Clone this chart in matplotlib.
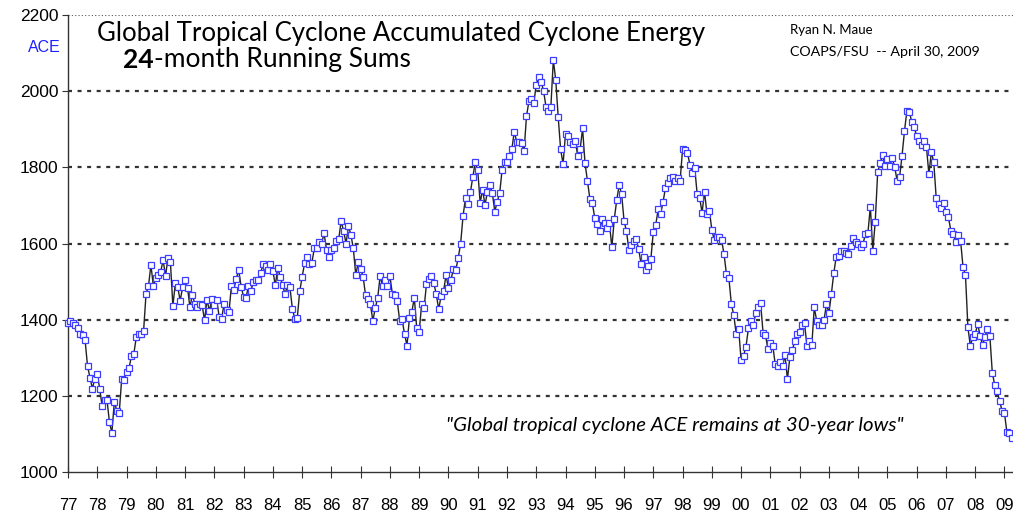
import numpy as np
import matplotlib.pyplot as plt

# Global tropical cyclone ACE, 24-month running sums, monthly Jan 1977 - Apr 2009
ace_1977_1984 = [
    1390, 1396, 1390, 1385, 1377, 1362, 1360, 1347, 1278, 1248, 1219, 1245,
    1257, 1219, 1173, 1188, 1189, 1130, 1103, 1185, 1161, 1154, 1244, 1242,
    1262, 1272, 1304, 1311, 1354, 1362, 1362, 1371, 1468, 1488, 1544, 1488,
    1509, 1518, 1526, 1556, 1515, 1563, 1551, 1436, 1495, 1485, 1450, 1485,
    1504, 1484, 1432, 1466, 1441, 1432, 1441, 1438, 1398, 1452, 1423, 1454,
    1439, 1452, 1406, 1402, 1442, 1425, 1419, 1489, 1479, 1508, 1530, 1487,
    1460, 1457, 1489, 1475, 1499, 1503, 1503, 1523, 1545, 1542, 1530, 1545,
    1529, 1490, 1536, 1513, 1490, 1467, 1491, 1485, 1429, 1402, 1404, 1474,
]
ace_1985_1992 = [
    1512, 1548, 1564, 1545, 1550, 1587, 1587, 1605, 1600, 1627, 1583, 1564,
    1583, 1587, 1607, 1611, 1659, 1633, 1600, 1646, 1623, 1587, 1517, 1551,
    1533, 1513, 1465, 1454, 1440, 1397, 1430, 1458, 1515, 1488, 1504, 1488,
    1515, 1467, 1465, 1450, 1397, 1401, 1362, 1332, 1405, 1421, 1458, 1377,
    1368, 1440, 1431, 1494, 1508, 1515, 1496, 1467, 1427, 1463, 1475, 1517,
    1483, 1503, 1533, 1530, 1562, 1600, 1673, 1720, 1703, 1735, 1775, 1813,
    1793, 1707, 1741, 1701, 1736, 1753, 1732, 1684, 1710, 1732, 1793, 1813,
    1813, 1829, 1848, 1894, 1866, 1866, 1863, 1842, 1934, 1974, 1980, 1969,
]
ace_1993_2000 = [
    2017, 2038, 2025, 2001, 1959, 1949, 1959, 2082, 2029, 1932, 1847, 1809,
    1888, 1882, 1867, 1861, 1870, 1830, 1848, 1902, 1811, 1764, 1717, 1706,
    1667, 1651, 1633, 1664, 1653, 1642, 1653, 1590, 1664, 1714, 1753, 1730,
    1660, 1632, 1583, 1596, 1607, 1611, 1585, 1546, 1565, 1530, 1542, 1559,
    1631, 1649, 1690, 1678, 1709, 1747, 1758, 1773, 1775, 1765, 1773, 1765,
    1848, 1846, 1838, 1807, 1784, 1797, 1729, 1720, 1681, 1736, 1678, 1686,
    1636, 1609, 1616, 1616, 1609, 1572, 1519, 1509, 1441, 1412, 1362, 1375,
    1294, 1305, 1329, 1377, 1397, 1386, 1417, 1432, 1443, 1366, 1360, 1322,
]
ace_2001_2009 = [
    1338, 1331, 1283, 1279, 1288, 1279, 1306, 1244, 1301, 1320, 1343, 1362,
    1368, 1386, 1390, 1331, 1344, 1333, 1432, 1397, 1386, 1386, 1399, 1441,
    1417, 1467, 1522, 1565, 1567, 1581, 1581, 1574, 1572, 1593, 1614, 1605,
    1599, 1590, 1600, 1625, 1628, 1697, 1580, 1657, 1787, 1811, 1832, 1804,
    1823, 1804, 1824, 1800, 1764, 1775, 1831, 1896, 1949, 1946, 1918, 1905,
    1882, 1870, 1859, 1869, 1854, 1782, 1840, 1814, 1719, 1704, 1692, 1706,
    1684, 1669, 1634, 1625, 1605, 1622, 1607, 1538, 1517, 1380, 1331, 1355,
    1362, 1389, 1358, 1333, 1355, 1375, 1357, 1261, 1228, 1213, 1186, 1161,
    1154, 1104, 1102, 1090,
]
year_labels = ['77', '78', '79', '80', '81', '82', '83', '84', '85', '86', '87',
               '88', '89', '90', '91', '92', '93', '94', '95', '96', '97', '98',
               '99', '00', '01', '02', '03', '04', '05', '06', '07', '08', '09']
y_ticks = [1000, 1200, 1400, 1600, 1800, 2000, 2200]

ace = ace_1977_1984 + ace_1985_1992 + ace_1993_2000 + ace_2001_2009
months = np.arange(len(ace))

W, H = 1013, 515
fig = plt.figure(figsize=(W / 100, H / 100), dpi=100)
ax = fig.add_axes([68 / W, 43 / H, 956 / W, 457 / H])

# dashed grid, thin dotted top line
for v in y_ticks[1:-1]:
    ax.axhline(v, color='#333333', lw=1.6, ls=(0, (1.8, 2.5)), zorder=1)
ax.axhline(2200, color='#555555', lw=0.8, ls=(0, (1, 2)), zorder=1)

ax.plot(months, ace, color='#222222', lw=1.0, marker='s', ms=3.8,
        mfc='white', mec='#3d3dff', mew=0.9, zorder=3, clip_on=False)

ax.set_xlim(0, 392)
ax.set_ylim(1000, 2200)
ax.set_xticks(np.arange(0, 12 * len(year_labels), 12))
ax.set_xticklabels(year_labels, fontfamily='Liberation Sans', fontsize=12)
ax.set_yticks(y_ticks)
ax.set_yticklabels([str(v) for v in y_ticks], fontfamily='Liberation Sans', fontsize=12.5)
ax.tick_params(axis='x', direction='inout', length=9, width=0.8, pad=14, colors='#333333',
               labelcolor='black')
ax.tick_params(axis='y', direction='out', length=4, width=0.8, pad=3, colors='#333333',
               labelcolor='black')
for s in ['top', 'right']:
    ax.spines[s].set_visible(False)
for s in ['left', 'bottom']:
    ax.spines[s].set_color('#333333')
    ax.spines[s].set_linewidth(1.0)

# texts
fig.text(44 / W, 1 - 47 / H, 'ACE', color='#2020ff', fontsize=11.5,
         fontfamily='Liberation Sans', ha='center', va='center')
fig.text(97 / W, 1 - 33 / H, 'Global Tropical Cyclone Accumulated Cyclone Energy',
         fontsize=18.5, fontfamily='Lato', ha='left', va='center')
t24 = fig.text(123 / W, 1 - 60 / H, '24', fontsize=19, fontweight='bold',
               fontfamily='Lato', ha='left', va='center')
r = fig.canvas.get_renderer()
bb = t24.get_window_extent(renderer=r)
fig.text(bb.x1 / W, 1 - 60 / H, '-month Running Sums', fontsize=19,
         fontfamily='Lato', ha='left', va='center')
fig.text(790 / W, 1 - 30 / H, 'Ryan N. Maue', fontsize=9.5,
         fontfamily='Lato', ha='left', va='center')
fig.text(790 / W, 1 - 52 / H, 'COAPS/FSU  -- April 30, 2009', fontsize=10.3,
         fontfamily='Lato', ha='left', va='center')
fig.text(675 / W, 1 - 426 / H, '"Global tropical cyclone ACE remains at 30-year lows"',
         fontsize=14.7, fontstyle='italic', fontfamily='Lato', ha='center', va='center')

fig.savefig('out.png', dpi=100)
